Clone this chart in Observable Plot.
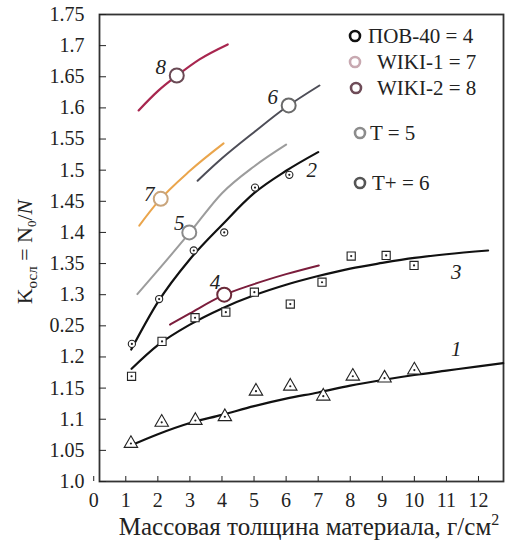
<!DOCTYPE html>
<html><head><meta charset="utf-8">
<script src="https://cdn.jsdelivr.net/npm/d3@7"></script>
<script src="https://cdn.jsdelivr.net/npm/@observablehq/plot@0.6"></script>
<style>
body{margin:0;background:#fff;}
#chart{position:relative;width:508px;height:542px;}
#chart svg, #chart svg text{font-family:"Liberation Serif","Times New Roman",serif !important;}
</style></head><body><div id="chart"></div>
<script>
// ---- tick values / labels ----
const xTicks = [0,1,2,3,4,5,6,7,8,9,10,11,12];
const yTicks = [1.0,1.05,1.1,1.15,1.2,1.25,1.3,1.35,1.4,1.45,1.5,1.55,1.6,1.65,1.7,1.75];
const yTickLabels = ["1.0","1.05","1.1","1.15","1.2","0.25","1.3","1.35","1.4","1.45","1.5","1.55","1.6","1.65","1.7","1.75"];

// ---- curve 1 (triangles) ----
const c1PtsX = [1.16,2.12,3.17,4.09,5.06,6.13,7.16,8.08,9.07,10.0];
const c1PtsY = [1.061,1.095,1.098,1.104,1.145,1.153,1.137,1.169,1.166,1.179];
const c1LineX = [1.16,2,3,4,5,6,7,8,9,10,11,12,12.77];
const c1LineY = [1.058,1.076,1.094,1.107,1.121,1.133,1.143,1.154,1.163,1.171,1.178,1.185,1.19];
// ---- curve 2 (circles) ----
const c2PtsX = [1.19,2.04,3.12,4.07,5.03,6.10];
const c2PtsY = [1.221,1.293,1.371,1.400,1.472,1.4925];
const c2LineX = [1.17,2,3,4,5,6,7];
const c2LineY = [1.212,1.288,1.357,1.412,1.463,1.499,1.529];
// ---- curve 3 (squares) ----
const c3PtsX = [1.18,2.13,3.16,4.12,5.01,6.13,7.12,8.03,9.12,9.99];
const c3PtsY = [1.169,1.225,1.263,1.272,1.304,1.285,1.320,1.362,1.363,1.347];
const c3LineX = [1.18,2,3,4,5,6,7,8,9,10,11,12.3];
const c3LineY = [1.181,1.219,1.252,1.278,1.299,1.316,1.330,1.342,1.351,1.359,1.365,1.371];
// ---- curves 4..8 ----
const c4LineX = [2.38,3,4,5,6,7.02];
const c4LineY = [1.252,1.270,1.298,1.317,1.333,1.347];
const c5LineX = [1.36,2,3,4,5,6.0];
const c5LineY = [1.301,1.339,1.400,1.463,1.506,1.541];
const c6LineX = [3.24,4,5,6,7.04];
const c6LineY = [1.483,1.519,1.561,1.601,1.636];
const c7LineX = [1.42,2,3,4.05];
const c7LineY = [1.411,1.449,1.499,1.543];
const c8LineX = [1.40,2,2.6,3.3,4.18];
const c8LineY = [1.596,1.627,1.652,1.678,1.702];

// ---- open circle markers on curves 4,5,6,7,8 ----
const markerX = [4.07,2.98,6.08,2.09,2.59];
const markerY = [1.30,1.40,1.604,1.454,1.652];
const markerColor = ["#6b2a3a","#8a8a8a","#6a6a6a","#c9a57c","#6a4a55"];

// ---- curve number labels ----
const labelText = ["1","2","3","4","5","6","7","8"];
const labelX = [11.31,6.80,11.31,3.78,2.67,5.58,1.73,2.09];
const labelY = [1.213,1.50,1.336,1.32,1.415,1.617,1.462,1.665];

// ---- legend ----
const legendLabels = ["ПОВ-40 = 4","WIKI-1 = 7","WIKI-2 = 8","T = 5","T+ = 6"];
const legendColors = ["#111111","#c8a9b1","#6e4c58","#8c8c8c","#555555"];

const xTitle = "Массовая толщина материала, г/см";

const rows = (xs, ys) => xs.map((x, i) => ({x, y: ys[i]}));
const lines = [
  {d: rows(c1LineX, c1LineY), stroke: "#111", w: 2.2},
  {d: rows(c2LineX, c2LineY), stroke: "#111", w: 2.2},
  {d: rows(c3LineX, c3LineY), stroke: "#111", w: 2.2},
  {d: rows(c4LineX, c4LineY), stroke: "#7b1d3c", w: 2},
  {d: rows(c5LineX, c5LineY), stroke: "#9c9c9c", w: 2},
  {d: rows(c6LineX, c6LineY), stroke: "#4d4d57", w: 2},
  {d: rows(c7LineX, c7LineY), stroke: "#eaa54c", w: 2},
  {d: rows(c8LineX, c8LineY), stroke: "#a8264f", w: 2.2}
];
const markers = markerX.map((x, i) => ({x, y: markerY[i], c: markerColor[i]}));
const labels = labelText.map((t, i) => ({t, x: labelX[i], y: labelY[i]}));
const pts1 = rows(c1PtsX, c1PtsY), pts2 = rows(c2PtsX, c2PtsY), pts3 = rows(c3PtsX, c3PtsY);

const yFmt = d => yTickLabels[yTicks.findIndex(t => Math.abs(t - d) < 1e-9)];

const plot = Plot.plot({
  width: 508, height: 542,
  marginLeft: 99, marginRight: 5, marginTop: 14, marginBottom: 61,
  style: {fontFamily: "'Liberation Serif', serif", fontSize: "20px", color: "#222", background: "#fff"},
  x: {domain: [0.18, 12.78]},
  y: {domain: [1.0, 1.75]},
  marks: [
    Plot.frame({stroke: "#333", strokeWidth: 1.8}),
    Plot.axisX({ticks: xTicks, tickSize: -5, tickPadding: 16, fontSize: 20, label: null, tickFormat: d => String(d)}),
    Plot.axisY({ticks: yTicks, tickSize: -7, tickPadding: 22, fontSize: 20, label: null, tickFormat: yFmt}),
    ...lines.map(l => Plot.line(l.d, {x: "x", y: "y", curve: "monotone-x", stroke: l.stroke, strokeWidth: l.w})),
    Plot.dot(pts1, {x: "x", y: "y", symbol: "triangle", r: 5, stroke: "#222", strokeWidth: 1.1, fill: "#fff"}),
    Plot.dot(pts2, {x: "x", y: "y", symbol: "circle", r: 3.6, stroke: "#222", strokeWidth: 1.1, fill: "#fff"}),
    Plot.dot(pts3, {x: "x", y: "y", symbol: "square", r: 4.6, stroke: "#222", strokeWidth: 1.1, fill: "#fff"}),
    Plot.dot([...pts1, ...pts2, ...pts3], {x: "x", y: "y", r: 1.1, fill: "#222"}),
    Plot.dot(markers, {x: "x", y: "y", r: 7, fill: "#fff", stroke: "c", strokeWidth: 2}),
    Plot.text(labels, {x: "x", y: "y", text: "t", fontSize: 21, fontStyle: "italic", fill: "#222"})
  ]
});
document.getElementById("chart").appendChild(plot);

const svg = d3.select(plot);
// x title
const xt = svg.append("text").attr("x", 309).attr("y", 535).attr("text-anchor", "middle")
  .attr("font-size", 25).attr("fill", "#222");
xt.append("tspan").text(xTitle);
xt.append("tspan").attr("font-size", 16).attr("dy", -10).text("2");
// y title
const yt = svg.append("text").attr("transform", "translate(32,252) rotate(-90)")
  .attr("text-anchor", "middle").attr("font-size", 22).attr("fill", "#222");
yt.append("tspan").text("K");
yt.append("tspan").attr("font-size", 15).attr("dy", 5).text("осл");
yt.append("tspan").attr("dy", -5).text(" = N");
yt.append("tspan").attr("font-size", 13).attr("dy", 4).text("0");
yt.append("tspan").attr("dy", -4).text("/");
yt.append("tspan").attr("font-style", "italic").text("N");
// legend
const legPos = [[355,36,368],[355,62,377],[356,88,377],[360,133,370],[360,183,372]];
legendLabels.forEach((t, i) => {
  const [cx, cy, tx] = legPos[i];
  svg.append("circle").attr("cx", cx).attr("cy", cy).attr("r", 5)
    .attr("fill", "none").attr("stroke", legendColors[i]).attr("stroke-width", 2.6);
  svg.append("text").attr("x", tx).attr("y", cy).attr("dy", "0.35em").attr("text-anchor", "start")
    .attr("font-size", 21).attr("fill", "#222").text(t);
});
</script></body></html>
